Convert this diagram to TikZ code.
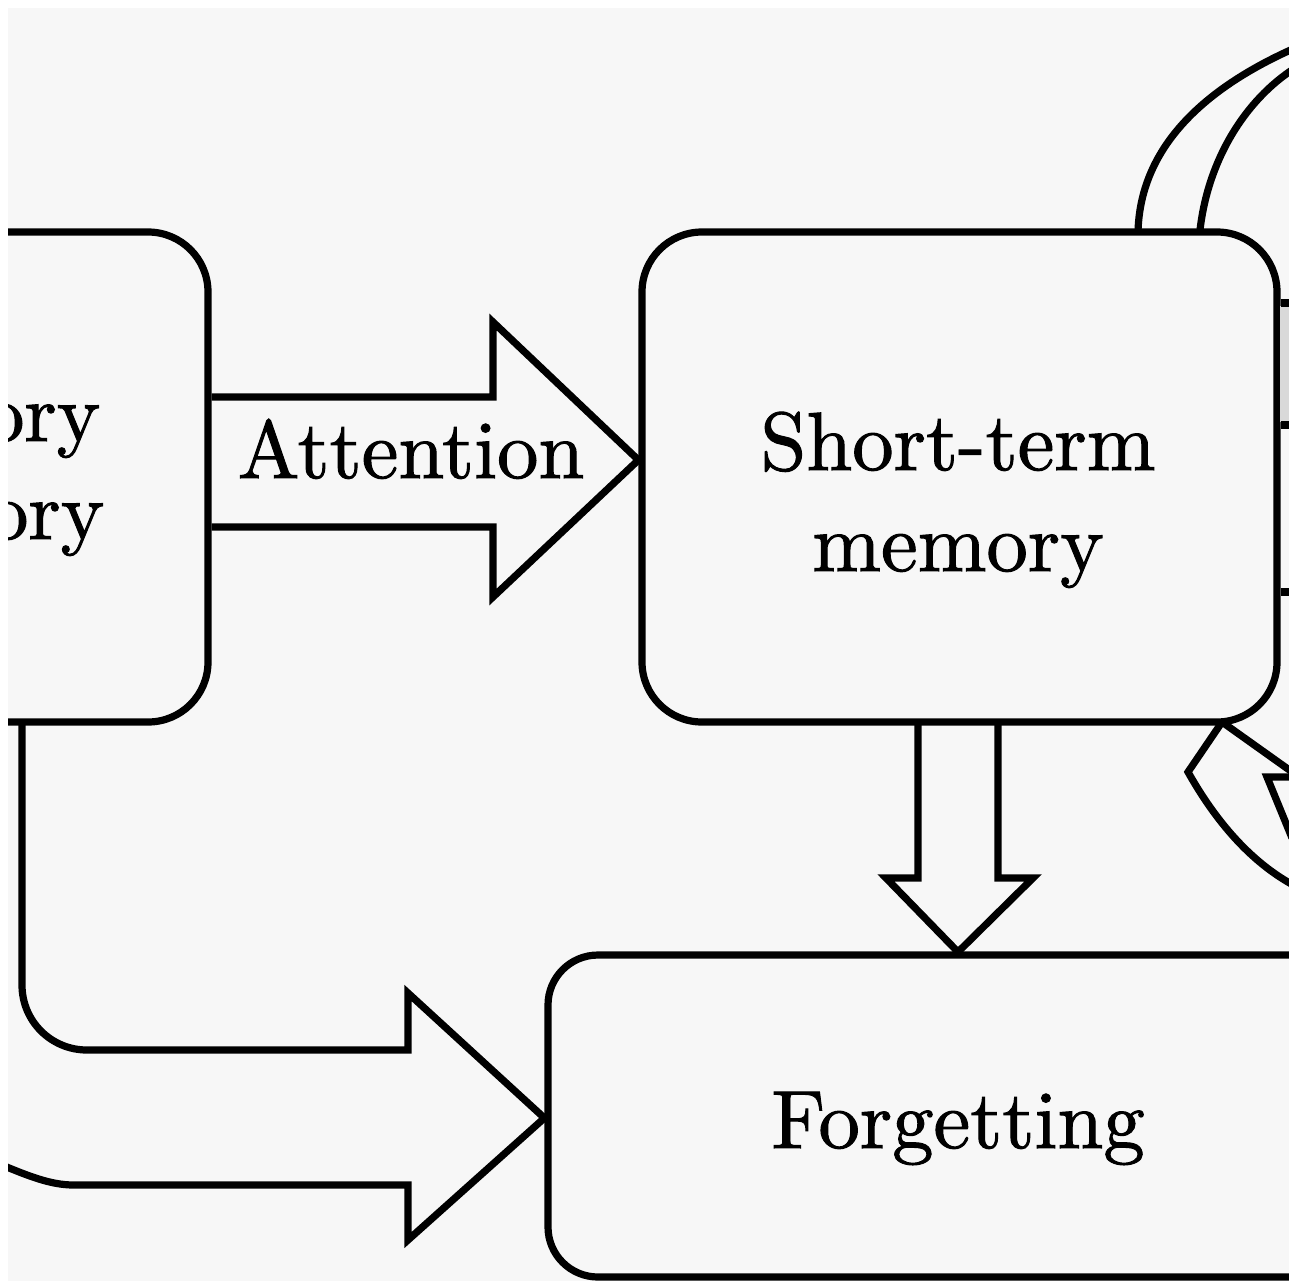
\documentclass[tikz,border=0pt]{standalone}
\usepackage{fontspec}
\setmainfont{lmroman10-regular}[Extension=.otf,FakeBold=1.2]
\usetikzlibrary{calc}
\definecolor{bg}{HTML}{F7F7F7}
\begin{document}
\begin{tikzpicture}[x=0.5pt,y=-0.5pt,line width=3.6pt,line join=miter,
  box/.style={draw,rounded corners=30pt,inner sep=0pt},
  lbl/.style={inner sep=0pt,font=\fontsize{41.3}{50}\selectfont\bfseries}]
\useasboundingbox (0,0) rectangle (1289,1281);
\fill[white] (0,0) rectangle (1289,1281);
\fill[bg] (8,8) rectangle (1289,1281);
\begin{scope}
\clip (8,8) rectangle (1289,1281);
% boxes
\node[box,minimum width=258pt,minimum height=245pt] (sens) at (-50,477) {};
\node[box,minimum width=317.5pt,minimum height=245pt] (stm) at (959.5,477) {};
\node[box,rounded corners=25pt,minimum width=450pt,minimum height=161pt] (forg) at (998,1116) {};
% texts
\node[lbl,anchor=base east] (s1) at (104,441) {Sensory};
\node[lbl,anchor=base east] (s2) at (108,539) {memory};
\node[lbl,anchor=base] (attn) at (411,478) {Attention};
\node[lbl,anchor=base] (st1) at (958,470) {Short-term};
\node[lbl,anchor=base] (st2) at (958,571) {memory};
\node[lbl,anchor=base] (fg) at (958,1148) {Forgetting};
% attention block arrow
\coordinate (attip) at ($(stm.west)+(0,-17)$);
\draw ($(sens.east)+(0,-80)$) -- (493,397) -- (493,322) -- (attip)
      -- (493,597) -- (493,527) -- ($(sens.east)+(0,50)$);
% down block arrow STM -> Forgetting
\coordinate (dtip) at (958,952);
\draw (918,722) -- (918,878) -- (886,878) -- (dtip) -- (1033,878) -- (998,878) -- (998,722);
% lower-left block arrow sensory -> forgetting
\coordinate (ltip) at (forg.west |- 0,1118);
\draw (22,722) -- (22,985) .. controls (22,1021) and (51,1050) .. (87,1050)
      -- (408,1050) -- (408,993) -- (ltip) -- (408,1240) -- (408,1185)
      -- (74,1185) .. controls (50,1185) and (28,1176) .. (-10,1160);
% top-right loop
\draw (1138,232) .. controls (1140,150) and (1200,90) .. (1295,48);
\draw (1200,230) .. controls (1208,160) and (1245,100) .. (1295,68);
% right stubs
\fill[gray!30] (1280,306) rectangle (1295,422);
\draw ($(stm.east)+(0,-174)$) -- ++(20,0);
\draw ($(stm.east)+(0,-52)$) -- ++(20,0);
\draw ($(stm.east)+(0,115)$) -- ++(20,0);
% bottom-right arrow pieces
\coordinate (brtip) at (1222,722);
\draw (brtip) -- (1188,772) .. controls (1215,820) and (1250,862) .. (1295,886);
\draw (brtip) -- (1295,774);
\draw (1295,777) -- (1267,777) -- (1292,838);
\end{scope}
\end{tikzpicture}
\end{document}
